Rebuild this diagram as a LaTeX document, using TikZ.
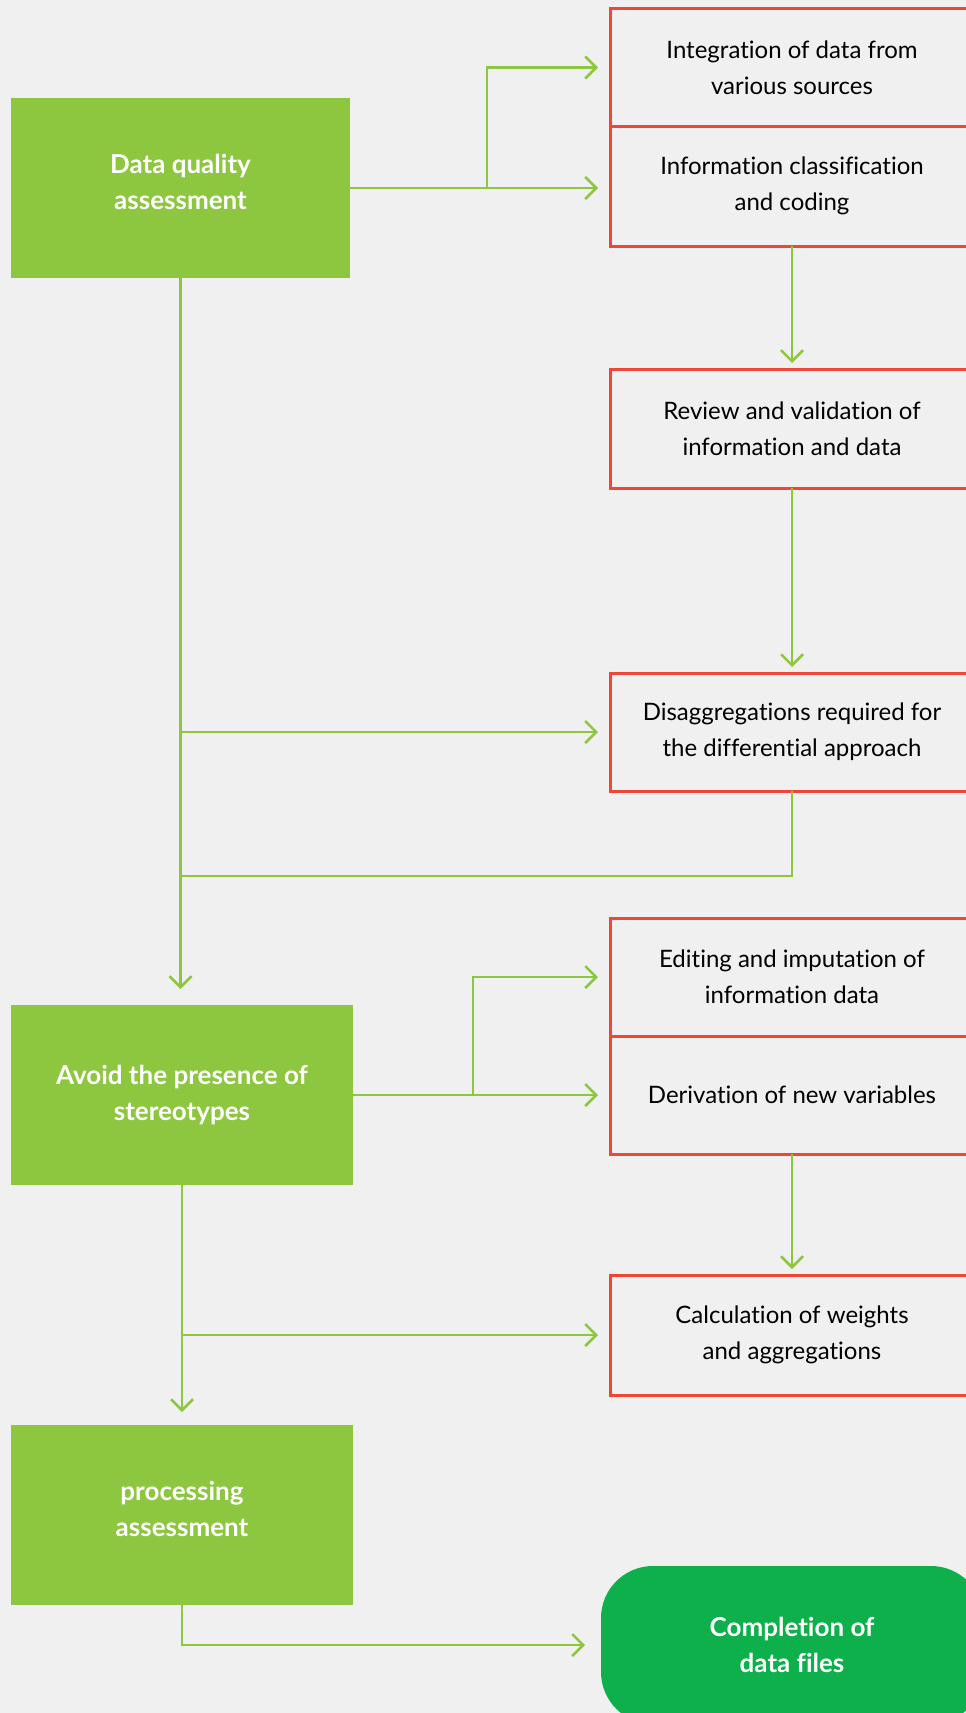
\documentclass[tikz,border=0pt]{standalone}
\usepackage{fontspec}
\setmainfont{Lato}[Ligatures={NoCommon}]
\usetikzlibrary{arrows.meta}
\definecolor{bgc}{HTML}{F0F0F0}
\definecolor{leaf}{HTML}{8DC63F}
\definecolor{brick}{HTML}{EF4638}
\definecolor{forest}{HTML}{0DB04B}
\begin{document}
\begin{tikzpicture}[x=1pt,y=-1pt,
  greenbox/.style={rectangle, fill=leaf, draw=none, inner sep=0pt, outer sep=0pt,
    minimum height=180pt, text=white, align=center,
    font=\fontsize{26}{36}\selectfont\bfseries},
  raised/.style={text depth=12pt},
  redbox/.style={rectangle, draw=brick, line width=3pt, fill=bgc, inner sep=0pt, outer sep=0pt,
    minimum width=364pt, minimum height=118pt, text=black, align=center,
    font=\fontsize{24}{36}\selectfont},
  endbox/.style={rectangle, rounded corners=52pt, fill=forest, inner sep=0pt, outer sep=0pt,
    minimum width=382pt, minimum height=158pt, text=white, align=center,
    font=\fontsize{26}{36}\selectfont\bfseries},
  wire/.style={draw=leaf, line width=2.5pt},
  flow/.style={wire, -{Straight Barb[length=11pt,width=22pt,line width=2.5pt]}},
]
\fill[bgc] (0,0) rectangle (966,1713);
\useasboundingbox (0,0) rectangle (966,1713);
\clip (0,0) rectangle (966,1713);

% left column
\node[greenbox, raised, minimum width=339pt] (dq) at (180.5,188) {Data quality\\assessment};
\node[greenbox, minimum width=342pt] (av) at (182,1095) {Avoid the presence of\\stereotypes};
\node[greenbox, raised, minimum width=342pt] (pa) at (182,1515) {processing\\assessment};

% right column
\node[redbox] (ig) at (792,67.5) {Integration of data from\\various sources};
\node[redbox, minimum height=120pt] (ic) at (792,186) {Information classification\\and coding};
\node[redbox, minimum height=119pt] (rv) at (792,428.5) {Review and validation of\\information and data};
\node[redbox] (dg) at (792,732) {Disaggregations required for\\the differential approach};
\node[redbox] (ed) at (792,977) {Editing and imputation of\\information data};
\node[redbox] (dv) at (792,1095) {Derivation of new variables};
\node[redbox, minimum height=120pt] (cw) at (792,1335) {Calculation of weights\\and aggregations};
\node[endbox] (cf) at (792,1645) {Completion of\\data files};

% junction points
\coordinate (j1) at (487,188);
\coordinate (j2) at (473,1095);
\coordinate (j3) at (180.5,876);

% connectors
\draw[flow, shorten >=12pt] (dq.east) -- (dq.east -| ic.west);
\draw[flow, shorten >=12pt] (j1) |- (ig.west);
\draw[flow, shorten >=6pt] (ic.south) -- (rv.north);
\draw[flow, shorten >=6pt] (rv.south) -- (dg.north);
\draw[flow, shorten >=16pt] (dq.south) -- (dq.south |- av.north);
\draw[flow, shorten >=12pt] (dq.south |- dg.west) -- (dg.west);
\draw[wire] (dg.south) |- (j3);

\draw[flow, shorten >=12pt] (av.east) -- (dv.west);
\draw[flow, shorten >=12pt] (j2) |- (ed.west);
\draw[flow, shorten >=6pt] (dv.south) -- (cw.north);
\draw[flow, shorten >=13pt] (av.south) -- (pa.north);
\draw[flow, shorten >=12pt] (av.south |- cw.west) -- (cw.west);
\draw[flow, shorten >=16pt] (pa.south) |- (cf.west);
\end{tikzpicture}
\end{document}
